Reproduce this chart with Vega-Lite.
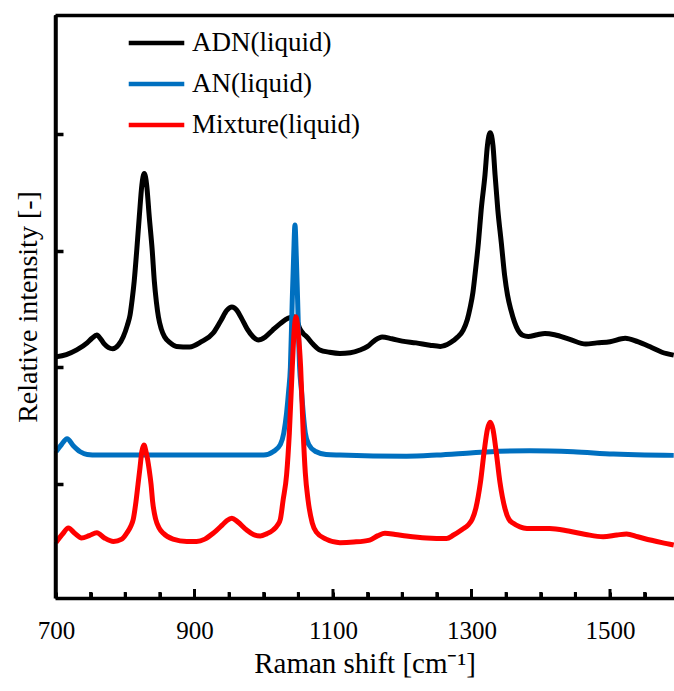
{
  "$schema": "https://vega.github.io/schema/vega-lite/v6.json",
  "width": 619,
  "height": 583,
  "autosize": "none",
  "padding": {"left": 55, "top": 15, "right": 0, "bottom": 93},
  "background": "white",
  "config": {"view": {"stroke": null}, "font": "Liberation Serif"},
  "datasets": {
    "spectra": [
    {"s":"ADN(liquid)","x":700,"y":2.09},{"s":"ADN(liquid)","x":715,"y":2.11},{"s":"ADN(liquid)","x":730,"y":2.15},{"s":"ADN(liquid)","x":745,"y":2.21},{"s":"ADN(liquid)","x":752,"y":2.25},{"s":"ADN(liquid)","x":759,"y":2.277},{"s":"ADN(liquid)","x":765,"y":2.24},{"s":"ADN(liquid)","x":770,"y":2.2},{"s":"ADN(liquid)","x":776,"y":2.17},{"s":"ADN(liquid)","x":782,"y":2.16},{"s":"ADN(liquid)","x":790,"y":2.19},{"s":"ADN(liquid)","x":797,"y":2.26},{"s":"ADN(liquid)","x":803,"y":2.36},{"s":"ADN(liquid)","x":807,"y":2.45},{"s":"ADN(liquid)","x":810,"y":2.58},{"s":"ADN(liquid)","x":813,"y":2.74},{"s":"ADN(liquid)","x":816.6,"y":3.0},{"s":"ADN(liquid)","x":820.3,"y":3.29},{"s":"ADN(liquid)","x":824,"y":3.56},{"s":"ADN(liquid)","x":827.5,"y":3.66},{"s":"ADN(liquid)","x":831,"y":3.56},{"s":"ADN(liquid)","x":834.7,"y":3.29},{"s":"ADN(liquid)","x":839,"y":3.0},{"s":"ADN(liquid)","x":842,"y":2.74},{"s":"ADN(liquid)","x":845,"y":2.56},{"s":"ADN(liquid)","x":848,"y":2.43},{"s":"ADN(liquid)","x":852,"y":2.33},{"s":"ADN(liquid)","x":857,"y":2.26},{"s":"ADN(liquid)","x":865,"y":2.21},{"s":"ADN(liquid)","x":874,"y":2.18},{"s":"ADN(liquid)","x":893,"y":2.175},{"s":"ADN(liquid)","x":910,"y":2.22},{"s":"ADN(liquid)","x":927,"y":2.295},{"s":"ADN(liquid)","x":938,"y":2.4},{"s":"ADN(liquid)","x":947,"y":2.49},{"s":"ADN(liquid)","x":954,"y":2.517},{"s":"ADN(liquid)","x":961,"y":2.49},{"s":"ADN(liquid)","x":968,"y":2.42},{"s":"ADN(liquid)","x":976,"y":2.33},{"s":"ADN(liquid)","x":985,"y":2.26},{"s":"ADN(liquid)","x":992,"y":2.235},{"s":"ADN(liquid)","x":1002,"y":2.26},{"s":"ADN(liquid)","x":1013,"y":2.32},{"s":"ADN(liquid)","x":1025,"y":2.38},{"s":"ADN(liquid)","x":1035,"y":2.42},{"s":"ADN(liquid)","x":1042.7,"y":2.434},{"s":"ADN(liquid)","x":1048,"y":2.4},{"s":"ADN(liquid)","x":1052,"y":2.333},{"s":"ADN(liquid)","x":1057,"y":2.29},{"s":"ADN(liquid)","x":1062,"y":2.263},{"s":"ADN(liquid)","x":1071,"y":2.2},{"s":"ADN(liquid)","x":1081,"y":2.149},{"s":"ADN(liquid)","x":1095,"y":2.13},{"s":"ADN(liquid)","x":1110,"y":2.12},{"s":"ADN(liquid)","x":1125,"y":2.125},{"s":"ADN(liquid)","x":1139,"y":2.149},{"s":"ADN(liquid)","x":1150,"y":2.18},{"s":"ADN(liquid)","x":1160,"y":2.23},{"s":"ADN(liquid)","x":1171,"y":2.26},{"s":"ADN(liquid)","x":1185,"y":2.245},{"s":"ADN(liquid)","x":1200,"y":2.225},{"s":"ADN(liquid)","x":1220,"y":2.21},{"s":"ADN(liquid)","x":1240,"y":2.19},{"s":"ADN(liquid)","x":1255,"y":2.18},{"s":"ADN(liquid)","x":1269,"y":2.21},{"s":"ADN(liquid)","x":1280,"y":2.26},{"s":"ADN(liquid)","x":1288,"y":2.32},{"s":"ADN(liquid)","x":1294,"y":2.41},{"s":"ADN(liquid)","x":1298,"y":2.51},{"s":"ADN(liquid)","x":1302,"y":2.64},{"s":"ADN(liquid)","x":1305,"y":2.79},{"s":"ADN(liquid)","x":1310,"y":3.07},{"s":"ADN(liquid)","x":1314,"y":3.35},{"s":"ADN(liquid)","x":1319.5,"y":3.65},{"s":"ADN(liquid)","x":1323,"y":3.9},{"s":"ADN(liquid)","x":1327,"y":4.01},{"s":"ADN(liquid)","x":1331,"y":3.9},{"s":"ADN(liquid)","x":1334,"y":3.65},{"s":"ADN(liquid)","x":1338,"y":3.35},{"s":"ADN(liquid)","x":1343,"y":3.07},{"s":"ADN(liquid)","x":1348,"y":2.78},{"s":"ADN(liquid)","x":1352,"y":2.62},{"s":"ADN(liquid)","x":1357,"y":2.49},{"s":"ADN(liquid)","x":1362,"y":2.39},{"s":"ADN(liquid)","x":1367,"y":2.32},{"s":"ADN(liquid)","x":1374,"y":2.275},{"s":"ADN(liquid)","x":1382,"y":2.265},{"s":"ADN(liquid)","x":1395,"y":2.28},{"s":"ADN(liquid)","x":1406,"y":2.29},{"s":"ADN(liquid)","x":1420,"y":2.28},{"s":"ADN(liquid)","x":1442,"y":2.24},{"s":"ADN(liquid)","x":1465,"y":2.2},{"s":"ADN(liquid)","x":1481,"y":2.21},{"s":"ADN(liquid)","x":1500,"y":2.22},{"s":"ADN(liquid)","x":1522,"y":2.25},{"s":"ADN(liquid)","x":1540,"y":2.22},{"s":"ADN(liquid)","x":1560,"y":2.17},{"s":"ADN(liquid)","x":1575,"y":2.13},{"s":"ADN(liquid)","x":1592,"y":2.105},
    {"s":"AN(liquid)","x":700,"y":1.278},{"s":"AN(liquid)","x":708,"y":1.34},{"s":"AN(liquid)","x":716,"y":1.39},{"s":"AN(liquid)","x":725,"y":1.33},{"s":"AN(liquid)","x":735,"y":1.278},{"s":"AN(liquid)","x":745,"y":1.255},{"s":"AN(liquid)","x":760,"y":1.25},{"s":"AN(liquid)","x":800,"y":1.25},{"s":"AN(liquid)","x":900,"y":1.25},{"s":"AN(liquid)","x":1000,"y":1.25},{"s":"AN(liquid)","x":1014,"y":1.28},{"s":"AN(liquid)","x":1024,"y":1.34},{"s":"AN(liquid)","x":1029,"y":1.44},{"s":"AN(liquid)","x":1033,"y":1.61},{"s":"AN(liquid)","x":1036,"y":1.8},{"s":"AN(liquid)","x":1038.5,"y":2.0},{"s":"AN(liquid)","x":1041.2,"y":2.58},{"s":"AN(liquid)","x":1043.2,"y":2.95},{"s":"AN(liquid)","x":1045.1,"y":3.22},{"s":"AN(liquid)","x":1047,"y":2.95},{"s":"AN(liquid)","x":1048.9,"y":2.58},{"s":"AN(liquid)","x":1051.8,"y":2.0},{"s":"AN(liquid)","x":1054.5,"y":1.8},{"s":"AN(liquid)","x":1057,"y":1.61},{"s":"AN(liquid)","x":1060,"y":1.44},{"s":"AN(liquid)","x":1065,"y":1.34},{"s":"AN(liquid)","x":1075,"y":1.28},{"s":"AN(liquid)","x":1090,"y":1.255},{"s":"AN(liquid)","x":1110,"y":1.25},{"s":"AN(liquid)","x":1206,"y":1.24},{"s":"AN(liquid)","x":1250,"y":1.25},{"s":"AN(liquid)","x":1302,"y":1.27},{"s":"AN(liquid)","x":1340,"y":1.283},{"s":"AN(liquid)","x":1384,"y":1.287},{"s":"AN(liquid)","x":1447,"y":1.278},{"s":"AN(liquid)","x":1505,"y":1.258},{"s":"AN(liquid)","x":1550,"y":1.25},{"s":"AN(liquid)","x":1592,"y":1.247},
    {"s":"Mixture(liquid)","x":700,"y":0.5},{"s":"Mixture(liquid)","x":709,"y":0.57},{"s":"Mixture(liquid)","x":718,"y":0.625},{"s":"Mixture(liquid)","x":727,"y":0.58},{"s":"Mixture(liquid)","x":737,"y":0.54},{"s":"Mixture(liquid)","x":748,"y":0.56},{"s":"Mixture(liquid)","x":759,"y":0.585},{"s":"Mixture(liquid)","x":770,"y":0.54},{"s":"Mixture(liquid)","x":783,"y":0.51},{"s":"Mixture(liquid)","x":795,"y":0.53},{"s":"Mixture(liquid)","x":802,"y":0.58},{"s":"Mixture(liquid)","x":808,"y":0.64},{"s":"Mixture(liquid)","x":811.6,"y":0.7},{"s":"Mixture(liquid)","x":815.5,"y":0.85},{"s":"Mixture(liquid)","x":818.5,"y":1.0},{"s":"Mixture(liquid)","x":821.3,"y":1.14},{"s":"Mixture(liquid)","x":824,"y":1.28},{"s":"Mixture(liquid)","x":827,"y":1.336},{"s":"Mixture(liquid)","x":830,"y":1.28},{"s":"Mixture(liquid)","x":834.7,"y":1.12},{"s":"Mixture(liquid)","x":837.3,"y":1.0},{"s":"Mixture(liquid)","x":839.6,"y":0.85},{"s":"Mixture(liquid)","x":844,"y":0.7},{"s":"Mixture(liquid)","x":849,"y":0.625},{"s":"Mixture(liquid)","x":855,"y":0.58},{"s":"Mixture(liquid)","x":869,"y":0.53},{"s":"Mixture(liquid)","x":889,"y":0.51},{"s":"Mixture(liquid)","x":903,"y":0.51},{"s":"Mixture(liquid)","x":915,"y":0.53},{"s":"Mixture(liquid)","x":927,"y":0.58},{"s":"Mixture(liquid)","x":940,"y":0.65},{"s":"Mixture(liquid)","x":947,"y":0.69},{"s":"Mixture(liquid)","x":954,"y":0.708},{"s":"Mixture(liquid)","x":962,"y":0.68},{"s":"Mixture(liquid)","x":975,"y":0.61},{"s":"Mixture(liquid)","x":985,"y":0.57},{"s":"Mixture(liquid)","x":995,"y":0.557},{"s":"Mixture(liquid)","x":1004,"y":0.575},{"s":"Mixture(liquid)","x":1014,"y":0.61},{"s":"Mixture(liquid)","x":1020,"y":0.65},{"s":"Mixture(liquid)","x":1024,"y":0.7},{"s":"Mixture(liquid)","x":1028,"y":0.865},{"s":"Mixture(liquid)","x":1033,"y":1.08},{"s":"Mixture(liquid)","x":1037,"y":1.44},{"s":"Mixture(liquid)","x":1041.2,"y":2.0},{"s":"Mixture(liquid)","x":1044,"y":2.32},{"s":"Mixture(liquid)","x":1046.6,"y":2.434},{"s":"Mixture(liquid)","x":1049.5,"y":2.32},{"s":"Mixture(liquid)","x":1053.3,"y":2.0},{"s":"Mixture(liquid)","x":1057,"y":1.44},{"s":"Mixture(liquid)","x":1060,"y":1.1},{"s":"Mixture(liquid)","x":1064,"y":0.865},{"s":"Mixture(liquid)","x":1070,"y":0.67},{"s":"Mixture(liquid)","x":1076,"y":0.59},{"s":"Mixture(liquid)","x":1090,"y":0.53},{"s":"Mixture(liquid)","x":1110,"y":0.5},{"s":"Mixture(liquid)","x":1130,"y":0.505},{"s":"Mixture(liquid)","x":1153,"y":0.522},{"s":"Mixture(liquid)","x":1165,"y":0.56},{"s":"Mixture(liquid)","x":1175,"y":0.58},{"s":"Mixture(liquid)","x":1190,"y":0.57},{"s":"Mixture(liquid)","x":1206,"y":0.557},{"s":"Mixture(liquid)","x":1235,"y":0.54},{"s":"Mixture(liquid)","x":1264,"y":0.535},{"s":"Mixture(liquid)","x":1274,"y":0.565},{"s":"Mixture(liquid)","x":1287,"y":0.615},{"s":"Mixture(liquid)","x":1295,"y":0.65},{"s":"Mixture(liquid)","x":1301,"y":0.7},{"s":"Mixture(liquid)","x":1306.5,"y":0.8},{"s":"Mixture(liquid)","x":1313,"y":1.02},{"s":"Mixture(liquid)","x":1318.5,"y":1.29},{"s":"Mixture(liquid)","x":1323,"y":1.47},{"s":"Mixture(liquid)","x":1327,"y":1.53},{"s":"Mixture(liquid)","x":1331,"y":1.47},{"s":"Mixture(liquid)","x":1335.4,"y":1.29},{"s":"Mixture(liquid)","x":1341,"y":1.02},{"s":"Mixture(liquid)","x":1348.4,"y":0.79},{"s":"Mixture(liquid)","x":1354,"y":0.7},{"s":"Mixture(liquid)","x":1360.4,"y":0.665},{"s":"Mixture(liquid)","x":1370,"y":0.635},{"s":"Mixture(liquid)","x":1380,"y":0.622},{"s":"Mixture(liquid)","x":1395,"y":0.62},{"s":"Mixture(liquid)","x":1413,"y":0.622},{"s":"Mixture(liquid)","x":1440,"y":0.6},{"s":"Mixture(liquid)","x":1465,"y":0.57},{"s":"Mixture(liquid)","x":1490,"y":0.55},{"s":"Mixture(liquid)","x":1510,"y":0.565},{"s":"Mixture(liquid)","x":1524,"y":0.574},{"s":"Mixture(liquid)","x":1540,"y":0.55},{"s":"Mixture(liquid)","x":1560,"y":0.52},{"s":"Mixture(liquid)","x":1575,"y":0.5},{"s":"Mixture(liquid)","x":1592,"y":0.48}
    ],
    "xticks": [
      {"t":750,"k":"minor"},{"t":800,"k":"minor"},{"t":850,"k":"minor"},{"t":900,"k":"major"},{"t":950,"k":"minor"},{"t":1000,"k":"minor"},{"t":1050,"k":"minor"},{"t":1100,"k":"major"},{"t":1150,"k":"minor"},{"t":1200,"k":"minor"},{"t":1250,"k":"minor"},{"t":1300,"k":"major"},{"t":1350,"k":"minor"},{"t":1400,"k":"minor"},{"t":1450,"k":"minor"},{"t":1500,"k":"major"},{"t":1550,"k":"minor"}
    ],
    "frame": [{"edge": "top"}]
  },
  "resolve": {"axis": {"x": "independent"}},
  "layer": [
    {
      "data": {"name": "spectra"},
      "mark": {"type": "line", "interpolate": "monotone", "strokeWidth": 5},
      "encoding": {
        "x": {"field": "x", "type": "quantitative",
          "scale": {"domain": [698.6, 1592.4], "nice": false, "zero": false},
          "axis": {
            "orient": "bottom",
            "values": [700,750,800,850,900,950,1000,1050,1100,1150,1200,1250,1300,1350,1400,1450,1500,1550],
            "format": "d",
            "labelExpr": "datum.value % 200 == 100 ? datum.label : ''",
            "title": "Raman shift [cm⁻¹]",
            "grid": false,
            "domainColor": "black", "domainWidth": 3.5,
            "ticks": true, "tickColor": "black", "tickWidth": 3, "tickSize": -6,
            "labelFont": "Liberation Serif", "labelFontSize": 25, "labelColor": "black",
            "labelPadding": 26, "labelFlush": false, "labelOverlap": false,
            "titleFont": "Liberation Serif", "titleFontSize": 29, "titleFontWeight": "normal",
            "titleColor": "black", "titlePadding": 6
          }
        },
        "y": {"field": "y", "type": "quantitative",
          "scale": {"domain": [0.026, 5.017], "nice": false, "zero": false},
          "axis": {
            "values": [1,2,3,4],
            "labels": false,
            "title": "Relative intensity [-]",
            "grid": false,
            "domainColor": "black", "domainWidth": 3.5,
            "tickColor": "black", "tickWidth": 3.5, "tickSize": -8,
            "titleFont": "Liberation Serif", "titleFontSize": 28, "titleFontWeight": "normal",
            "titleColor": "black", "titlePadding": 11
          }
        },
        "color": {"field": "s", "type": "nominal",
          "scale": {"domain": ["ADN(liquid)", "AN(liquid)", "Mixture(liquid)"], "range": ["#000000", "#0070C0", "#FF0000"]},
          "legend": {
            "title": null, "orient": "none", "legendX": 74, "legendY": 0.5,
            "symbolType": "M-1.1,0H1.1", "symbolSize": 2550, "symbolStrokeWidth": 4.5,
            "labelFont": "Liberation Serif", "labelFontSize": 27, "labelColor": "black",
            "labelOffset": 8, "rowPadding": 0, "padding": 0, "labelLimit": 400
          }
        }
      }
    },
    {
      "data": {"name": "xticks"},
      "transform": [{"filter": "datum.k == 'major'"}],
      "mark": {"type": "tick", "orient": "vertical", "color": "black", "size": 9, "thickness": 3, "opacity": 1, "yOffset": -4.5},
      "encoding": {
        "x": {"field": "t", "type": "quantitative", "axis": null},
        "y": {"datum": 0.026, "type": "quantitative"}
      }
    },
    {
      "data": {"name": "xticks"},
      "transform": [{"filter": "datum.k == 'minor'"}],
      "mark": {"type": "tick", "orient": "vertical", "color": "black", "size": 6, "thickness": 3, "opacity": 1, "yOffset": -3},
      "encoding": {
        "x": {"field": "t", "type": "quantitative", "axis": null},
        "y": {"datum": 0.026, "type": "quantitative"}
      }
    },
    {
      "data": {"name": "frame"},
      "mark": {"type": "rule", "color": "black", "strokeWidth": 3.5},
      "encoding": {
        "x": {"datum": 700, "type": "quantitative",
          "axis": {"orient": "top", "labels": false, "ticks": false, "title": null, "grid": false, "domainColor": "black", "domainWidth": 3.5}}
      }
    }
  ]
}
